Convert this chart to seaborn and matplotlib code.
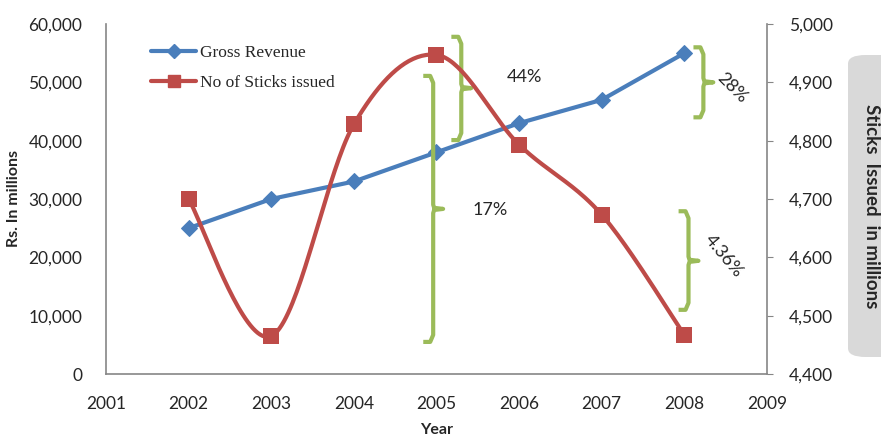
import numpy as np
import matplotlib
matplotlib.use("Agg")
import matplotlib.pyplot as plt
import seaborn as sns
from matplotlib.patches import FancyBboxPatch
from matplotlib.lines import Line2D

years = [2002, 2003, 2004, 2005, 2006, 2007, 2008]
gross_revenue = [25000, 30000, 33000, 38000, 43000, 47000, 55000]
sticks_issued = [4700, 4465, 4828, 4947, 4793, 4673, 4467]

# (x, top, bottom, tip) in left-axis data units, and label text
braces = [
    (2004.96, 51100, 5500, 28300),
    (2005.30, 57800, 40100, 49000),
    (2008.23, 56000, 44000, 50000),
    (2008.05, 27900, 11000, 19400),
]
brace_labels = [
    ("17%", 2005.65, 28100, 0),
    ("44%", 2006.07, 50900, 0),
    ("28%", 2008.58, 49000, -45),
    ("4.36%", 2008.47, 20300, -50),
]

BLUE = "#4A7EBB"
RED = "#BE4B48"
GREEN = "#9BBB59"
GREY = "#868686"


def smooth_curve(xs, ys, n=40):
    # Excel-style smoothed line: cubic Bezier with Catmull-Rom tangents
    xs = np.asarray(xs, float)
    ys = np.asarray(ys, float)
    pts = np.column_stack([xs, ys])
    out = []
    for i in range(len(pts) - 1):
        p0 = pts[max(i - 1, 0)]
        p1 = pts[i]
        p2 = pts[i + 1]
        p3 = pts[min(i + 2, len(pts) - 1)]
        c1 = p1 + (p2 - p0) / 6
        c2 = p2 - (p3 - p1) / 6
        t = np.linspace(0, 1, n)[:, None]
        seg = ((1 - t) ** 3) * p1 + 3 * ((1 - t) ** 2) * t * c1 \
            + 3 * (1 - t) * t ** 2 * c2 + t ** 3 * p2
        out.append(seg if i == 0 else seg[1:])
    out = np.vstack(out)
    return out[:, 0], out[:, 1]


def draw_brace(ax, x, top, bottom, tip, w=0.12, r=1200):
    xs = [x - w, x - w * 0.3, x, x, x + w * 0.1, x + w, x + w * 0.1,
          x, x, x - w * 0.3, x - w]
    ys = [top, top, top - r, tip + r * 0.6, tip + r * 0.15, tip,
          tip - r * 0.15, tip - r * 0.6, bottom + r, bottom, bottom]
    ax.plot(xs, ys, color=GREEN, lw=3, solid_joinstyle="round",
            solid_capstyle="butt", zorder=4)


sns.set_style("white")
plt.rcParams["font.family"] = ["Lato", "DejaVu Sans"]

fig = plt.figure(figsize=(8.81, 4.36), dpi=100)
ax = fig.add_axes([0.1203, 0.1422, 0.7503, 0.8028])
ax2 = ax.twinx()

sns.lineplot(x=years, y=gross_revenue, ax=ax, color=BLUE, lw=3,
             marker="D", markersize=8, markeredgecolor=BLUE, zorder=3)

sx, sy = smooth_curve(years, sticks_issued)
ax2.plot(sx, sy, color=RED, lw=3, zorder=3)
sns.scatterplot(x=years, y=sticks_issued, ax=ax2, color=RED, marker="s",
                s=125, edgecolor=RED, linewidth=0, zorder=4)

ax.set_xlim(2001, 2009)
ax.set_ylim(0, 60000)
ax2.set_ylim(4400, 5000)
ax.set_xticks(range(2001, 2010))
ax.set_yticks(range(0, 60001, 10000))
ax2.set_yticks(range(4400, 5001, 100))
ax.yaxis.set_major_formatter(matplotlib.ticker.FuncFormatter(lambda v, p: f"{int(v):,}"))
ax2.yaxis.set_major_formatter(matplotlib.ticker.FuncFormatter(lambda v, p: f"{int(v):,}"))

for a in (ax, ax2):
    for s in a.spines.values():
        s.set_color(GREY)
        s.set_linewidth(1.2)
    a.spines["top"].set_visible(False)
ax.spines["right"].set_visible(False)
ax2.spines["left"].set_visible(False)
ax2.spines["bottom"].set_visible(False)

ax.tick_params(axis="x", length=0, labelsize=12.5, pad=16)
ax.tick_params(axis="y", length=0, labelsize=12.5, pad=17)
ax2.tick_params(axis="y", length=4, color=GREY, labelsize=12.5, pad=12)

ax.set_xlabel("Year", fontsize=11.5, fontweight="bold", labelpad=8)
ax.set_ylabel("Rs. In millions", fontsize=11.5, fontweight="bold", labelpad=5)

for b in braces:
    draw_brace(ax, *b)
for text, x, y, rot in brace_labels:
    ax.text(x, y, text, fontsize=13, ha="center", va="center", rotation=rot,
            zorder=5)

handles = [
    Line2D([], [], color=BLUE, lw=3, marker="D", markersize=7),
    Line2D([], [], color=RED, lw=3, marker="s", markersize=8),
]
ax.legend(handles, ["Gross Revenue", "No of Sticks issued"], loc="upper left",
          bbox_to_anchor=(0.045, 0.985), frameon=False, handlelength=2.6,
          handletextpad=0.2, labelspacing=0.8,
          prop={"family": "Liberation Serif", "size": 12.5})

box = FancyBboxPatch((848 / 881, 1 - 357 / 436), 60 / 881, 302 / 436,
                     boxstyle="round,pad=0,rounding_size=0.02",
                     transform=fig.transFigure, facecolor="#D9D9D9",
                     edgecolor="none", zorder=0)
fig.patches.append(box)
fig.text(872 / 881, 1 - 206 / 436, "Sticks  Issued  in millions",
         rotation=-90, ha="center", va="center", fontsize=13.5,
         fontweight="bold")

fig.savefig("out.png", dpi=100)
